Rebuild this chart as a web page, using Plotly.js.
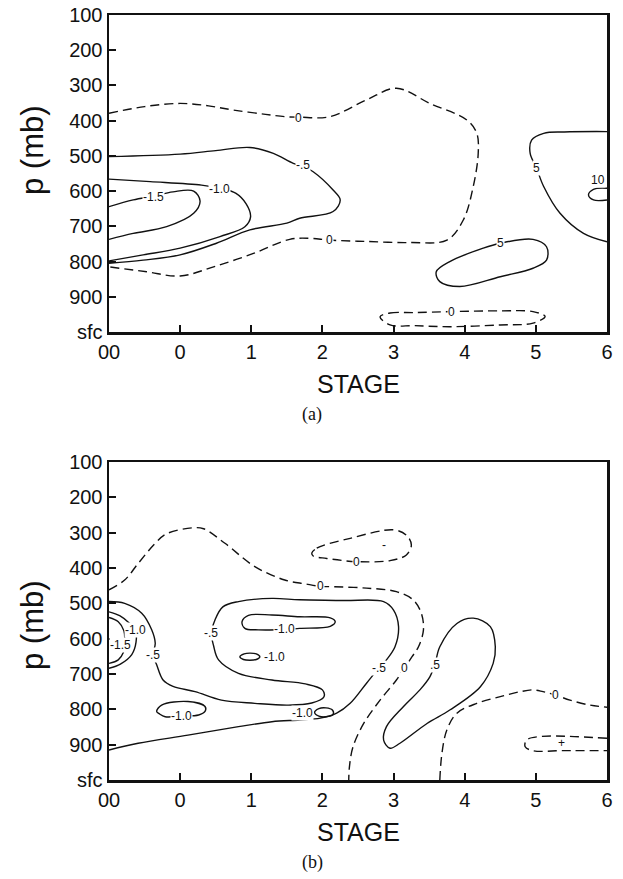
<!DOCTYPE html>
<html><head><meta charset="utf-8">
<script src="https://cdn.plot.ly/plotly-3.0.1.min.js"></script>
<style>html,body{margin:0;padding:0;background:#fff}#chart{width:623px;height:879px}</style>
</head><body><div id="chart"></div>
<script>
// ---------- axis ticks ----------
const stageTicks = [-1, 0, 1, 2, 3, 4, 5, 6];
const stageLabels = ['00', '0', '1', '2', '3', '4', '5', '6'];
const presTicks = [100, 200, 300, 400, 500, 600, 700, 800, 900, 1000];
const presLabels = ['100', '200', '300', '400', '500', '600', '700', '800', '900', 'sfc'];

// ---------- panel (a) contours: stage, pressure ----------
const aZero_s = [-1, -0.5, 0.0, 0.4, 0.75, 1.2, 1.5, 1.68, 2.1, 2.62, 3.04, 3.51, 4.03, 4.17, 4.19, 4.12, 3.98, 3.75, 3.23, 2.62, 2.1, 1.83, 1.54, 1.03, 0.47, 0.0, -0.47, -1];
const aZero_p = [379, 360, 351, 358, 370, 382, 389, 390, 389, 341, 308, 351, 398, 436, 492, 587, 682, 739, 746, 743, 739, 734, 737, 777, 815, 841, 829, 815];
const aM05_s = [-1, 0, 0.5, 0.98, 1.31, 1.59, 1.73, 1.87, 2.15, 2.25, 2.15, 1.68, 1.5, 0.98, 0.51, 0, -0.52, -1];
const aM05_p = [502, 495, 485, 476, 493, 521, 530, 545, 597, 625, 658, 677, 691, 710, 748, 781, 796, 805];
const aM10_s = [-1, -0.42, 0.3, 0.56, 0.78, 0.93, 0.99, 0.91, 0.56, 0, -0.52, -1];
const aM10_p = [566, 573, 583, 592, 606, 637, 673, 701, 729, 762, 781, 798];
const aM15_s = [-1, -0.66, -0.38, -0.1, 0.19, 0.28, 0.19, -0.19, -0.66, -1];
const aM15_p = [644, 625, 614, 602, 600, 628, 663, 701, 720, 737];
const aP5r_s = [6.0, 5.4, 5.11, 4.94, 4.92, 5.01, 5.11, 5.34, 5.67, 6.0];
const aP5r_p = [431, 432, 436, 455, 493, 535, 587, 663, 720, 744];
const aP10_s = [6.0, 5.81, 5.74, 5.81, 6.0];
const aP10_p = [592, 595, 611, 625, 625];
const aP5c_s = [4.5, 4.96, 5.15, 5.15, 4.96, 4.5, 3.93, 3.65, 3.6, 3.79, 4.26, 4.5];
const aP5c_p = [748, 737, 758, 796, 819, 843, 871, 857, 829, 800, 762, 748];
const aZeroB_s = [2.81, 2.95, 3.3, 3.82, 4.5, 4.96, 5.13, 4.96, 4.5, 3.79, 3.3, 2.95, 2.81];
const aZeroB_p = [957, 946, 945, 942, 940, 942, 956, 975, 980, 985, 982, 980, 957];
const aLab_s = [1.66, 2.1, 1.73, 0.56, -0.38, 5.01, 5.88, 4.5, 3.82];
const aLab_p = [392, 740, 526, 594, 616, 535, 568, 748, 942];
const aLab_t = ['0', '0', '-.5', '-1.0', '-1.5', '5', '10', '5', '0'];

// ---------- panel (b) contours ----------
const bZero_s = [-1, -0.78, -0.59, -0.35, -0.19, 0.19, 0.33, 0.63, 1.05, 1.47, 1.76, 1.97, 2.15, 2.62, 3.04, 3.28, 3.39, 3.42, 3.35, 3.26, 3.15, 3.04, 2.81, 2.58, 2.43, 2.38, 2.37];
const bZero_p = [462, 434, 387, 330, 303, 286, 289, 330, 396, 434, 445, 452, 453, 457, 467, 491, 528, 575, 623, 651, 684, 717, 774, 840, 906, 962, 1000];
const bZeroS_s = [1.85, 1.92, 2.39, 3.0, 3.18, 3.25, 3.18, 2.95, 2.48, 2.06, 1.87, 1.85];
const bZeroS_p = [358, 344, 316, 292, 307, 335, 363, 379, 382, 373, 366, 358];
const bZeroR_s = [3.65, 3.68, 3.75, 3.89, 4.17, 4.5, 4.78, 4.96, 5.1, 5.27, 5.48, 5.76, 6.0];
const bZeroR_p = [1000, 924, 858, 811, 783, 764, 750, 745, 750, 759, 774, 788, 794];
const bPlus_s = [6.0, 5.06, 4.87, 4.85, 4.96, 5.38, 6.0];
const bPlus_p = [882, 877, 887, 906, 917, 917, 917];
const bM05_s = [-1, -0.78, -0.54, -0.40, -0.35, -0.38, -0.33, -0.24, -0.10, 0.21, 0.58, 1.05, 1.52, 1.85, 2.02, 2.0, 1.76, 1.29, 0.82, 0.54, 0.47, 0.44, 0.49, 0.6, 0.82, 1.29, 1.68, 2.3, 2.86, 3.0, 3.07, 3.02, 2.90, 2.79, 2.62, 2.39, 2.20, 1.97, 1.68, 1.29, 0.82, 0.11, -0.59, -1];
const bM05_p = [495, 500, 528, 575, 613, 646, 674, 717, 735, 750, 774, 783, 788, 782, 765, 745, 728, 717, 698, 660, 620, 585, 547, 510, 495, 486, 490, 492, 495, 519, 566, 623, 660, 684, 726, 783, 811, 825, 830, 835, 849, 873, 896, 915];
const bM10L_s = [-1, -0.85, -0.72, -0.63, -0.62, -0.68, -0.84, -1];
const bM10L_p = [524, 535, 555, 575, 610, 645, 672, 684];
const bM15L_s = [-1, -0.87, -0.79, -0.78, -0.80, -0.87, -1];
const bM15L_p = [540, 552, 578, 615, 640, 660, 670];
const bM10C_s = [0.87, 0.96, 1.29, 1.68, 2.11, 2.18, 2.11, 1.68, 1.47, 1.1, 0.91, 0.87];
const bM10C_p = [552, 534, 533, 538, 541, 552, 565, 571, 574, 575, 571, 552];
const bM10E_s = [0.84, 0.9, 0.98, 1.07, 1.12, 1.07, 0.98, 0.89, 0.84];
const bM10E_p = [651, 643, 641, 643, 651, 659, 661, 659, 651];
const bM10LL_s = [-0.33, -0.26, 0.11, 0.35, 0.35, 0.26, 0.02, -0.21, -0.29, -0.33];
const bM10LL_p = [806, 788, 778, 792, 806, 816, 819, 821, 813, 806];
const bM10R_s = [1.89, 1.95, 2.05, 2.14, 2.15, 2.05, 1.95, 1.89];
const bM10R_p = [809, 798, 796, 802, 814, 821, 819, 809];
const bP05_s = [3.58, 3.65, 3.89, 4.12, 4.36, 4.43, 4.40, 4.22, 3.79, 3.47, 3.09, 2.95, 2.86, 2.90, 3.14, 3.37, 3.51, 3.58];
const bP05_p = [674, 623, 557, 542, 566, 623, 670, 736, 802, 840, 896, 910, 887, 849, 792, 745, 708, 674];
const bLab_s = [1.97, 3.15, 2.48, -0.63, -0.845, -0.38, 0.44, 1.47, 1.33, 0.02, 1.72, 2.79, 3.58, 5.27];
const bLab_p = [452, 684, 382, 575, 618, 646, 585, 574, 651, 819, 809, 684, 674, 759];
const bLab_t = ['0', '0', '0', '-1.0', '-1.5', '-.5', '-.5', '-1.0', '-1.0', '-1.0', '-1.0', '-.5', '.5', '0'];
const bSign_s = [2.86, 5.36];
const bSign_p = [335, 896];
const bSign_t = ['-', '+'];

// ---------- build ----------
const W = 623, H = 879;
const px = v => v / W, py = v => 1 - v / H;
const DASH = '9px,5px';

function line(s, p, dashed, panel) {
  return {
    type: 'scatter', mode: 'lines', x: s, y: p,
    xaxis: panel === 'a' ? 'x' : 'x2', yaxis: panel === 'a' ? 'y' : 'y2',
    line: {color: '#111', width: 1.4, shape: 'spline', smoothing: 1, dash: dashed ? DASH : 'solid'},
    hoverinfo: 'skip', showlegend: false
  };
}

const traces = [
  line(aZero_s, aZero_p, true, 'a'),
  line(aM05_s, aM05_p, false, 'a'),
  line(aM10_s, aM10_p, false, 'a'),
  line(aM15_s, aM15_p, false, 'a'),
  line(aP5r_s, aP5r_p, false, 'a'),
  line(aP10_s, aP10_p, false, 'a'),
  line(aP5c_s, aP5c_p, false, 'a'),
  line(aZeroB_s, aZeroB_p, true, 'a'),
  line(bZero_s, bZero_p, true, 'b'),
  line(bZeroS_s, bZeroS_p, true, 'b'),
  line(bZeroR_s, bZeroR_p, true, 'b'),
  line(bPlus_s, bPlus_p, true, 'b'),
  line(bM05_s, bM05_p, false, 'b'),
  line(bM10L_s, bM10L_p, false, 'b'),
  line(bM15L_s, bM15L_p, false, 'b'),
  line(bM10C_s, bM10C_p, false, 'b'),
  line(bM10E_s, bM10E_p, false, 'b'),
  line(bM10LL_s, bM10LL_p, false, 'b'),
  line(bM10R_s, bM10R_p, false, 'b'),
  line(bP05_s, bP05_p, false, 'b')
];

const FONT = 'Liberation Sans, Arial, sans-serif';
const annotations = [];
function addLabels(s, p, t, panel, bg) {
  for (let i = 0; i < s.length; i++) {
    annotations.push({
      x: s[i], y: p[i], text: t[i], showarrow: false,
      xref: panel === 'a' ? 'x' : 'x2', yref: panel === 'a' ? 'y' : 'y2',
      font: {family: FONT, size: 12, color: '#111'},
      bgcolor: bg ? '#ffffff' : 'rgba(0,0,0,0)', borderpad: 0
    });
  }
}
addLabels(aLab_s, aLab_p, aLab_t, 'a', true);
addLabels(bLab_s, bLab_p, bLab_t, 'b', true);
addLabels(bSign_s, bSign_p, bSign_t, 'b', false);

function title(text, x, y, size, angle, family) {
  annotations.push({text, x: px(x), y: py(y), xref: 'paper', yref: 'paper', showarrow: false,
    textangle: angle || 0, xanchor: 'center', yanchor: 'middle',
    font: {family: family || FONT, size, color: '#111'}});
}
title('p (mb)', 32, 150, 31, -90);
title('p (mb)', 32, 625, 31, -90);
title('STAGE', 358, 384, 25);
title('STAGE', 358, 832, 25);
title('(a)', 312, 414, 18, 0, 'Liberation Serif, serif');
title('(b)', 312, 862, 18, 0, 'Liberation Serif, serif');

function xax(anchor) {
  return {domain: [px(109), px(607)], range: [-1, 6], anchor,
    tickmode: 'array', tickvals: stageTicks, ticktext: stageLabels,
    ticks: 'inside', ticklen: 7, tickwidth: 2, tickcolor: '#111',
    showline: true, linewidth: 2.5, linecolor: '#111', mirror: true,
    showgrid: false, zeroline: false,
    tickfont: {family: FONT, size: 20, color: '#111'}};
}
function yax(anchor, top, bottom) {
  return {domain: [py(bottom), py(top)], range: [1000, 100], anchor,
    tickmode: 'array', tickvals: presTicks, ticktext: presLabels,
    ticks: 'inside', ticklen: 7, tickwidth: 2, tickcolor: '#111',
    showline: true, linewidth: 2.5, linecolor: '#111', mirror: true,
    showgrid: false, zeroline: false,
    tickfont: {family: FONT, size: 20, color: '#111'}};
}

const layout = {
  width: W, height: H, margin: {l: 0, r: 0, t: 0, b: 0},
  paper_bgcolor: '#fff', plot_bgcolor: '#fff', showlegend: false,
  xaxis: xax('y'), yaxis: yax('x', 15, 332),
  xaxis2: xax('y2'), yaxis2: yax('x2', 462, 780),
  annotations
};

Plotly.newPlot('chart', traces, layout, {staticPlot: true, displayModeBar: false});
</script>
</body></html>
